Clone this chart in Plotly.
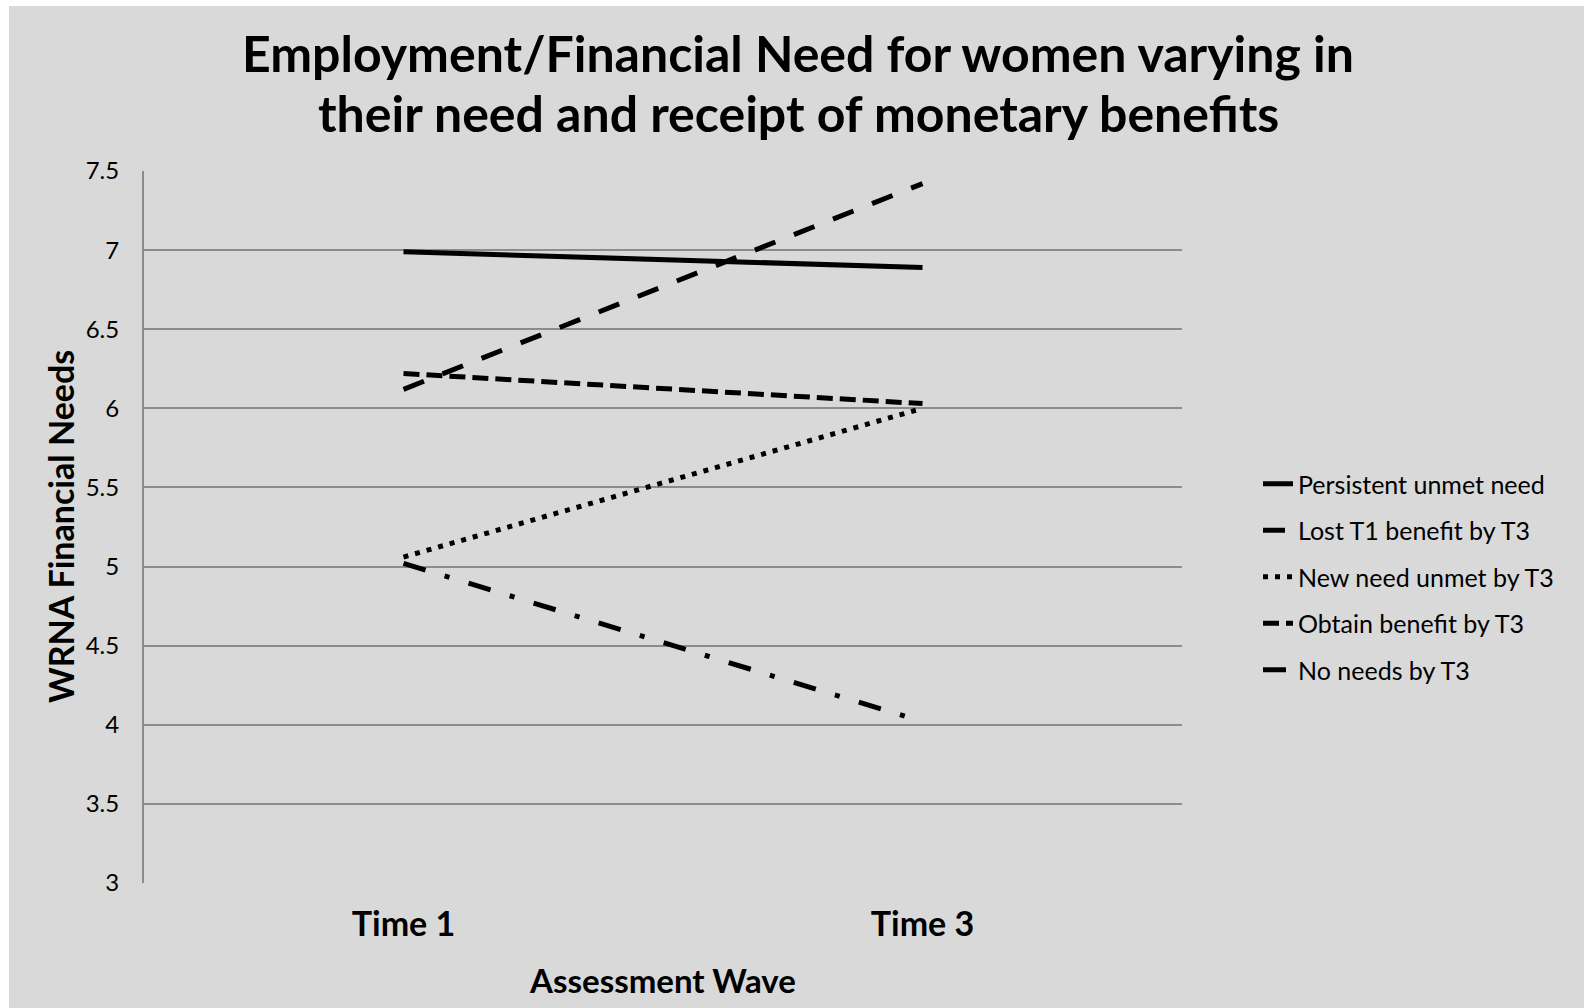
import plotly.graph_objects as go

categories = ["Time 1", "Time 3"]
series_names = [
    "Persistent unmet need",
    "Lost T1 benefit by T3",
    "New need unmet by T3",
    "Obtain benefit by T3",
    "No needs by T3",
]
persistent = [6.99, 6.89]
lost_t1 = [6.12, 7.42]
new_need = [5.06, 6.00]
obtain = [6.22, 6.03]
no_needs = [5.02, 4.02]
y_ticks = [3, 3.5, 4, 4.5, 5, 5.5, 6, 6.5, 7, 7.5]
y_tick_labels = ["3", "3.5", "4", "4.5", "5", "5.5", "6", "6.5", "7", "7.5"]
title_lines = [
    "Employment/Financial Need for women varying in",
    "their need and receipt of monetary benefits",
]
x_title = "Assessment Wave"
y_title = "WRNA Financial Needs"

values = [persistent, lost_t1, new_need, obtain, no_needs]
dashes = ["solid", "22px,20px", "5px,7px", "16px,7px", "23px,20px,5px,20px"]

FONT = "Lato"
fig = go.Figure()
for i, (name, vals, dash) in enumerate(zip(series_names, values, dashes)):
    fig.add_trace(go.Scatter(
        x=categories, y=vals, name=name, mode="lines",
        line=dict(color="black", width=5, dash=dash),
        legendgroup=f"g{i}",
    ))

W, H = 1589, 1008
L, R, T, B = 144, 1182, 171, 883
pw, ph = R - L, B - T

def px_x(x):
    return (x - L) / pw

def px_y(y):
    return (B - y) / ph

fig.add_shape(type="rect", xref="paper", yref="paper",
              x0=px_x(9), x1=px_x(1584), y0=px_y(1015), y1=px_y(6),
              fillcolor="#d9d9d9", line=dict(width=0), layer="below")

for line_text, ypix in zip(title_lines, [53, 113]):
    fig.add_annotation(
        text=f"<b>{line_text}</b>", xref="paper", yref="paper",
        x=px_x(798), y=px_y(ypix), xanchor="center", yanchor="middle",
        showarrow=False, font=dict(size=50, family=FONT, color="black"),
    )

fig.add_annotation(
    text=f"<b>{y_title}</b>", xref="paper", yref="paper",
    x=px_x(60), y=0.5, xanchor="center", yanchor="middle", textangle=-90,
    showarrow=False, font=dict(size=34, family=FONT, color="black"),
)

fig.update_layout(
    width=W, height=H,
    margin=dict(l=L, r=W - R, t=T, b=H - B, pad=0),
    paper_bgcolor="white",
    plot_bgcolor="rgba(0,0,0,0)",
    font=dict(family=FONT, color="black"),
    legend=dict(
        x=px_x(1258), xanchor="left", y=px_y(577), yanchor="middle",
        font=dict(size=25, family=FONT, color="black"),
        bgcolor="rgba(0,0,0,0)", tracegroupgap=11,
    ),
    xaxis=dict(
        type="category", range=[-0.5, 1.5],
        showgrid=False, showline=False, zeroline=False, ticks="",
        tickfont=dict(size=34, family=FONT, color="black", weight="bold"),
        ticklabelstandoff=18,
        title=dict(text=f"<b>{x_title}</b>", font=dict(size=33, family=FONT), standoff=27),
        automargin=False,
    ),
    yaxis=dict(
        range=[3, 7.5], tickvals=y_ticks, ticktext=y_tick_labels,
        showgrid=True, gridcolor="#8c8c8c", gridwidth=2,
        showline=True, linecolor="#8c8c8c", linewidth=2,
        zeroline=False, ticks="",
        tickfont=dict(size=24, family=FONT, color="black"),
        ticklabelstandoff=18,
        automargin=False,
    ),
)

fig.write_html(
    "out.html",
    config={"displayModeBar": False},
    post_script="document.body.style.margin='0px';document.body.style.overflow='hidden';",
)
